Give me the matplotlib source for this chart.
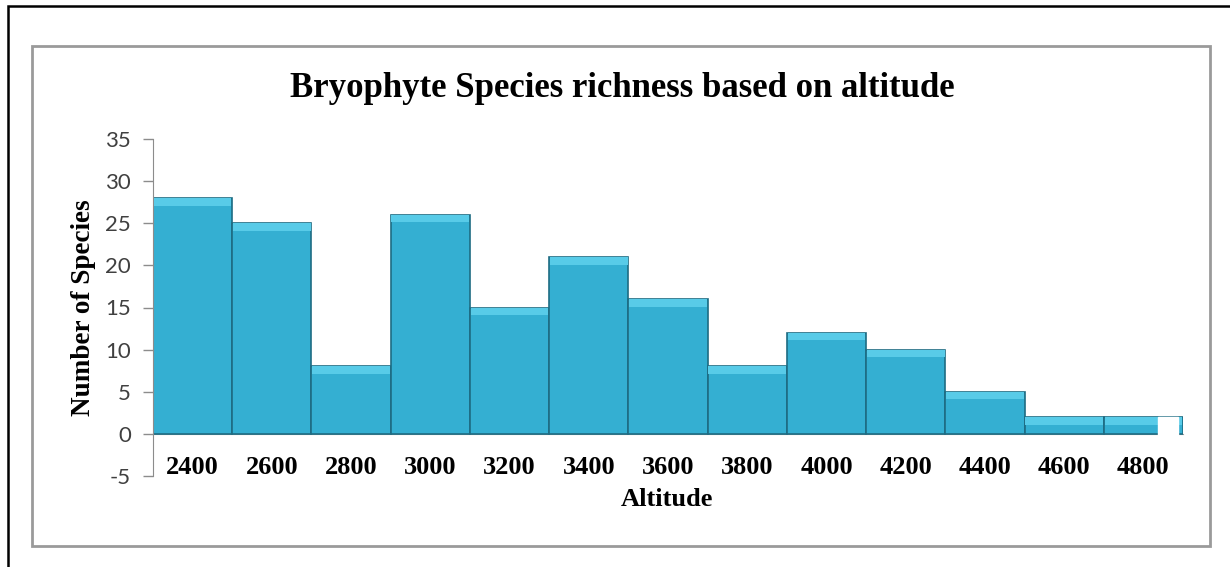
import matplotlib
matplotlib.use("Agg")
import matplotlib.pyplot as plt
from matplotlib.patches import Rectangle

# data
altitudes = ['2400', '2600', '2800', '3000', '3200', '3400', '3600',
             '3800', '4000', '4200', '4400', '4600', '4800']
species = [28, 25, 8, 26, 15, 21, 16, 8, 12, 10, 5, 2, 2]
yticks = [-5, 0, 5, 10, 15, 20, 25, 30, 35]

W, H = 1230, 567
fig = plt.figure(figsize=(W / 100, H / 100), dpi=100)

# outer black frame (only top/left visible) and grey chart box
fig.patches.append(Rectangle((8 / W, -0.1), 1.2, 1 - 6 / H + 0.1, transform=fig.transFigure,
                             fill=False, edgecolor='black', linewidth=1.8))
fig.patches.append(Rectangle((32 / W, 1 - 546 / H), (1210 - 32) / W, (546 - 46) / H,
                             transform=fig.transFigure, fill=False,
                             edgecolor='#9a9a9a', linewidth=2))

ax = fig.add_axes([153 / W, 1 - 476 / H, (1183 - 153) / W, (476 - 139) / H])
# move the category axis to y=0 first (this resets tick settings)
ax.spines['bottom'].set_position(('data', 0))

x = list(range(len(species)))
ax.bar(x, species, width=1.0, color='#34AFD2', edgecolor='#1E6C83', linewidth=1.2, zorder=2)
# bevel highlight on top of each bar
ax.bar(x, [0.9] * len(species), bottom=[v - 0.9 for v in species], width=0.98,
       color='#58CBE8', edgecolor='none', zorder=3)

ax.set_xlim(-0.5, len(species) - 0.5)
ax.set_ylim(-5, 35)
ax.set_yticks(yticks)
ax.set_yticklabels([str(t) for t in yticks], fontsize=16, color='#404040', family='Lato')
ax.tick_params(axis='y', direction='out', length=7, color='#8c8c8c', width=1, pad=9)

ax.set_xticks(x)
ax.set_xticklabels(altitudes, fontsize=19, fontweight='bold', family='Liberation Serif')
ax.tick_params(axis='x', length=0, pad=16)

for s in ['top', 'right']:
    ax.spines[s].set_visible(False)
ax.spines['left'].set_color('#8c8c8c')
ax.spines['bottom'].set_color('#9a9a9a')
ax.spines['bottom'].set_zorder(1)

ax.set_ylabel('Number of Species', fontsize=19.5, fontweight='bold', family='Liberation Serif')
ax.yaxis.set_label_coords(-0.055, 0.5)

fig.text(667 / W, 1 - 500 / H, 'Altitude', ha='center', va='center',
         fontsize=19, fontweight='bold', family='Liberation Serif')
fig.text(622 / W, 1 - 89 / H, 'Bryophyte Species richness based on altitude', ha='center',
         va='center', fontsize=25, fontweight='bold', family='Liberation Serif')

# small white patch over the end of the last bar, as in the source image
fig.patches.append(Rectangle((1158 / W, 1 - 442 / H), 20 / W, 25 / H,
                             transform=fig.transFigure, color='white', zorder=10))

fig.savefig('out.png', dpi=100)
